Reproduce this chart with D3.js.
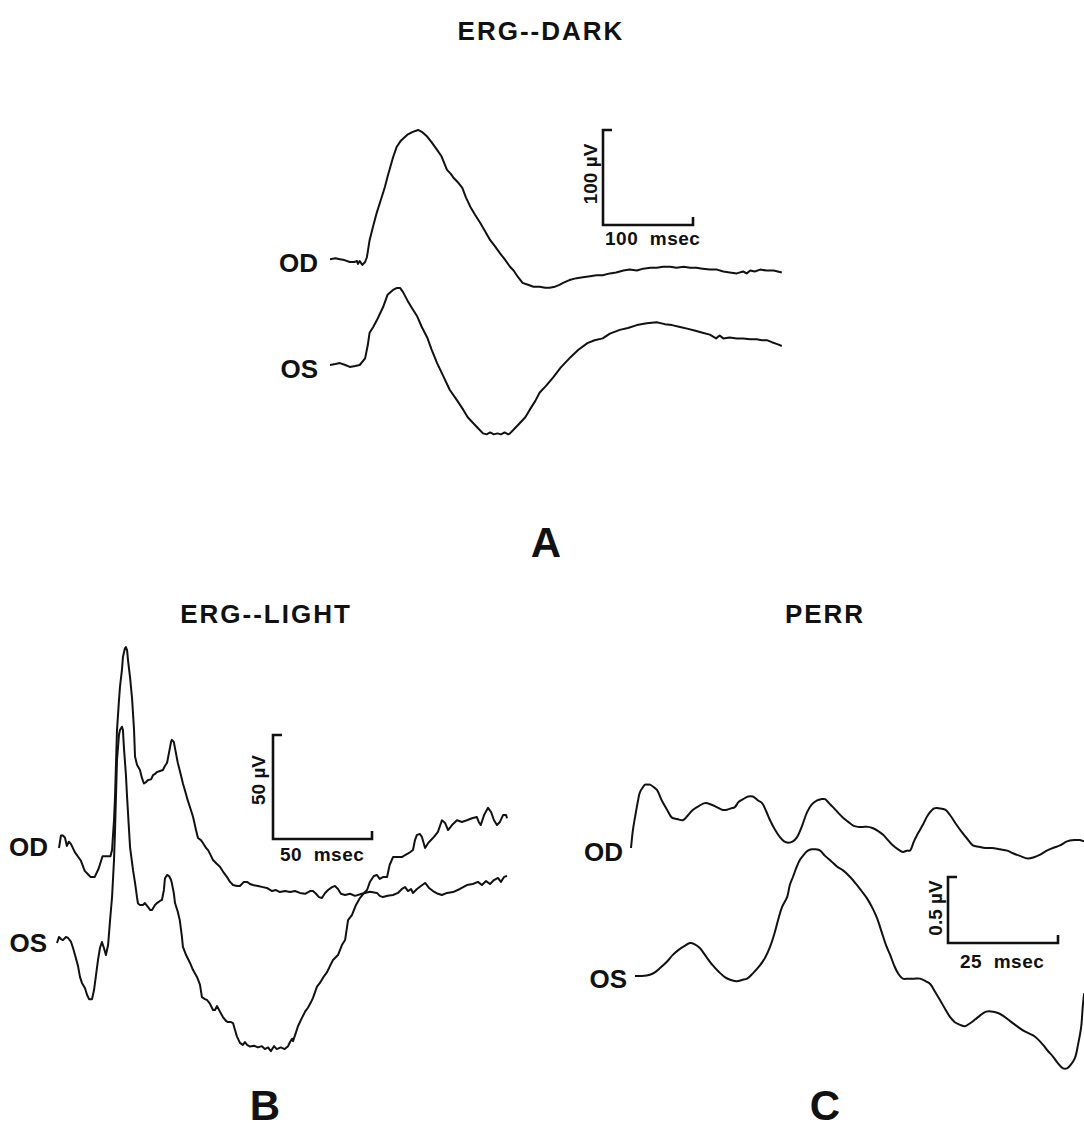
<!DOCTYPE html>
<html>
<head>
<meta charset="utf-8">
<script src="https://cdn.jsdelivr.net/npm/d3@7"></script>
<style>
  body { margin: 0; background: #fff; }
  svg { display: block; }
  .trace { fill: none; stroke: #111; stroke-width: 2; stroke-linejoin: round; }
  .bar { fill: none; stroke: #111; stroke-width: 2.6; }
  text { font-family: "Liberation Sans", Arial, sans-serif; font-weight: bold; fill: #111; }
</style>
</head>
<body>
<svg id="chart"></svg>
<script>
// traces: [time in msec, amplitude in microvolts]
const darkOD = [[0,3],[6,4],[11,3],[16,2],[22,0],[27,0],[30,1],[31,-2],[33,1],[36,-3],[39,0],[41,5],[44,23],[48,38],[52,52],[56,64],[61,79],[64,90],[67,100],[70,110],[74,121],[79,128],[86,134],[92,137],[98,139],[102,137],[108,132],[113,126],[119,118],[124,111],[130,97],[134,93],[137,89],[142,84],[147,78],[151,68],[156,58],[161,50],[167,41],[172,33],[178,23],[183,17],[189,9],[194,3],[200,-5],[204,-9],[209,-16],[214,-22],[220,-24],[226,-26],[233,-26],[239,-27],[244,-27],[250,-26],[255,-24],[259,-22],[266,-19],[274,-17],[281,-16],[289,-15],[296,-14],[303,-14],[311,-12],[318,-11],[326,-9],[333,-8],[341,-9],[348,-7],[356,-6],[363,-6],[370,-5],[378,-5],[385,-6],[393,-5],[400,-6],[407,-6],[414,-7],[422,-8],[430,-8],[437,-10],[444,-11],[452,-12],[459,-10],[463,-12],[467,-9],[472,-10],[478,-8],[485,-9],[493,-9],[502,-11]];

const darkOS = [[0,0],[6,1],[11,2],[17,0],[22,-2],[28,-1],[33,0],[39,7],[42,21],[44,34],[48,40],[52,47],[56,55],[59,61],[64,74],[70,79],[74,81],[78,81],[81,77],[86,68],[91,60],[97,51],[102,40],[108,29],[113,16],[119,2],[126,-12],[133,-26],[141,-37],[148,-47],[153,-55],[159,-61],[164,-66],[170,-72],[174,-73],[178,-71],[182,-73],[186,-72],[190,-73],[194,-71],[198,-73],[200,-72],[206,-66],[211,-61],[217,-55],[222,-47],[228,-38],[233,-29],[240,-22],[248,-13],[256,-3],[267,8],[276,16],[286,23],[294,26],[303,28],[311,33],[322,37],[331,39],[341,42],[352,44],[363,45],[372,43],[380,42],[389,40],[398,38],[406,36],[414,34],[422,32],[429,28],[433,31],[437,28],[444,29],[452,28],[459,28],[467,27],[474,27],[480,26],[486,26],[491,24],[497,22],[502,20]];

const lightOD = [[1,0],[2,6],[3,6],[4,5],[5,1],[6,3],[7,2],[9,-2],[12,-6],[14,-11],[16,-13],[17,-14],[19,-14],[21,-10],[23,-4],[25,-4],[27,-4],[27.8,-1],[28.8,13.5],[29.3,24.5],[30.3,56.7],[31.3,71],[31.8,77.4],[32.8,85.6],[33.3,91.8],[34.3,96],[34.8,96.6],[35.4,95],[35.9,90],[36.9,82],[37.9,72],[38.9,57],[39.4,44],[40.4,40],[41.9,37.5],[42.9,33.7],[43.9,31],[45,31.7],[46,32.7],[47.5,33],[48.5,35],[49.5,35.6],[50.5,36.5],[52,37],[53.5,37.5],[54.5,39.4],[55.6,41],[56.6,46],[57.6,51],[58,52],[59,51],[60,46],[61,41],[62.6,35],[63.6,31],[65,26.4],[66,23],[67.7,18],[68.7,15],[70.2,8.7],[71.2,4.8],[72.7,3.8],[73.7,2.4],[75.3,0],[76.3,-1],[77.8,-3.8],[78.8,-5.8],[80.8,-7.7],[82.3,-9],[84.3,-12],[85.9,-14],[87.4,-16.3],[88.9,-17.8],[90.9,-18.3],[92.4,-18.3],[94.4,-16.3],[96,-16.3],[97.5,-17.3],[99,-17.8],[101.5,-18.3],[104,-18.8],[106,-19.2],[108.6,-20.7],[110.6,-20.2],[112.6,-21.2],[115.2,-20.7],[117.7,-21.2],[120.2,-20.7],[122.7,-21.6],[125.3,-22],[127.8,-20.7],[129.3,-20.7],[130.8,-22],[132.3,-23.6],[133.8,-24],[135.4,-21.6],[136.9,-20.2],[138.9,-18.8],[140.4,-18.3],[141.9,-19.7],[143.4,-22],[145.5,-22.6],[148,-22],[150.5,-23],[154,-22],[158,-21],[161.6,-21.6],[163,-23],[164.6,-23.6],[167,-23],[169.7,-22.6],[172.2,-21.6],[174.2,-19.7],[175.8,-18.8],[177.3,-20.7],[178.8,-19.7],[179.8,-21.6],[181.8,-19.7],[183.8,-18.3],[185.9,-16.8],[187.9,-19.2],[189.9,-20.7],[192.4,-22],[194.4,-22.6],[197,-21.6],[200,-21.2],[203.5,-19.7],[207,-17.8],[210,-17.3],[212.6,-16.3],[214.6,-17.8],[216.7,-15.9],[218.7,-17.3],[220.7,-15.4],[222.7,-14.4],[224.2,-16.3],[225.8,-13.9],[227.3,-13.5]];

const lightOS = [[0,0],[1,2.9],[2,1.9],[3,1.4],[4.5,2.9],[5.6,2.4],[7.1,0.5],[8.1,-2.4],[9.1,-5.8],[10.6,-11],[11.6,-16.3],[12.6,-19.2],[14.1,-21.6],[15.2,-25],[16.2,-27],[17.7,-27],[18.7,-22.6],[19.7,-15.4],[20.7,-8.2],[21.7,-2.4],[22.7,0.5],[23.7,-2.4],[24.7,-5.8],[25.8,-1],[26.8,11],[27.8,22],[28.8,40],[29.3,54],[30.3,88],[31.3,100],[31.8,102.4],[32.8,104],[33.3,102.4],[33.8,94],[34.8,81],[35.4,70],[36.4,54],[36.9,46],[38.4,35],[39.4,29],[40.4,22],[40.9,19],[41.9,18.3],[43.4,18.3],[44.4,19.2],[46,17.3],[47,15.9],[48,15.9],[49.5,18.3],[50.5,19.2],[52,20.2],[53,20.7],[54,25.5],[54.5,31],[55.6,32.7],[56.6,32.2],[57.6,30.3],[58,28.8],[59,24],[59.6,19.2],[61,15],[62,11],[63,3.8],[63.6,-1.9],[65.2,-5.8],[67.2,-9.6],[68.7,-13],[70.7,-16.3],[72.2,-20],[73.2,-26],[74.7,-27],[75.8,-27.4],[77.3,-29.3],[78.8,-32.2],[79.8,-32.2],[80.8,-30.3],[82.3,-33],[83.8,-35.6],[85.4,-37.5],[86.4,-38],[87.9,-38],[88.9,-38.5],[89.9,-41.8],[90.9,-45],[92.4,-48],[93.9,-49],[94.9,-47.6],[96,-49],[97.5,-49.8],[99.5,-49.4],[101.5,-50.2],[103.5,-49.6],[105,-51],[106.6,-50.2],[108,-52],[109.6,-49.6],[111,-51],[113,-50.2],[115,-51],[116.7,-49.6],[117.7,-47.6],[118.7,-46],[119.2,-47.2],[120.7,-43],[121.7,-40],[123.7,-36],[125.3,-33],[126.8,-31],[128.3,-28.4],[129.3,-26.4],[131.3,-21],[132.8,-19.2],[134.8,-16],[136.4,-14],[137.9,-11],[139.4,-8.2],[141.9,-5.8],[143.9,-1],[145.5,1.4],[147,11],[149,13.5],[151,18.3],[153,21.6],[155,24],[156.6,25.5],[158,29.3],[160,32.2],[161.6,32.7],[163,30.8],[164.6,31.7],[166.7,31.7],[168,37.5],[169.7,41.3],[172.2,41.3],[174.2,41.3],[175.8,42.3],[177.8,43.3],[179.8,44.7],[180.8,49.5],[181.8,52],[183.3,52.4],[184.3,51],[185.9,45.7],[187.4,48],[188.9,49.5],[190.4,51],[192.4,53.4],[194.4,59],[196,57.7],[197.5,54.3],[199.5,56.7],[202,59],[204.5,58.2],[207,59],[209.6,60],[212,60.6],[213,58.2],[214,56.7],[215.7,61.5],[217.7,65],[219.2,63],[220.7,59],[222.2,56.7],[223.7,58.2],[225.3,61.5],[226.8,61.5],[227.3,60]];

const perrOD = [[0,0],[0.45,0.14],[0.9,0.23],[1.6,0.36],[2.0,0.42],[2.7,0.46],[3.2,0.48],[3.9,0.48],[4.3,0.48],[5.2,0.46],[5.9,0.44],[7.0,0.36],[8.2,0.29],[9.3,0.23],[10.5,0.22],[11.8,0.21],[13.0,0.25],[14.1,0.29],[15.5,0.32],[16.8,0.34],[18.2,0.33],[19.5,0.31],[20.7,0.29],[21.8,0.29],[22.7,0.30],[23.6,0.31],[24.5,0.35],[25.5,0.37],[26.6,0.39],[27.7,0.39],[28.9,0.36],[29.8,0.34],[30.7,0.28],[31.6,0.21],[32.7,0.14],[33.9,0.08],[34.8,0.05],[35.7,0.04],[36.8,0.05],[37.7,0.08],[38.9,0.17],[40.0,0.27],[41.1,0.33],[42.3,0.36],[43.2,0.37],[44.1,0.37],[45.0,0.34],[45.9,0.31],[47.0,0.27],[48.2,0.23],[49.3,0.20],[50.5,0.17],[51.6,0.16],[52.7,0.16],[53.9,0.16],[55.0,0.15],[56.1,0.13],[57.3,0.10],[58.4,0.06],[59.5,0.02],[60.7,-0.01],[61.8,-0.03],[62.7,-0.02],[63.4,-0.02],[64.3,0.05],[65.2,0.11],[66.4,0.18],[67.5,0.25],[68.9,0.30],[70.2,0.30],[71.4,0.29],[72.5,0.25],[73.9,0.18],[75.2,0.12],[76.4,0.07],[77.7,0.02],[79.1,0.01],[80.5,0],[82.0,0],[83.9,-0.01],[85.5,-0.02],[86.8,-0.04],[88.4,-0.06],[90.2,-0.08],[91.6,-0.07],[93.0,-0.05],[94.5,-0.02],[95.9,0],[97.5,0.02],[99.1,0.05],[100.7,0.06],[102.0,0.06],[103.0,0.05]];

const perrOS = [[0.9,0],[2.5,0],[4.3,0.01],[5.5,0.03],[6.6,0.06],[8.2,0.11],[9.5,0.16],[10.9,0.20],[12.3,0.23],[13.4,0.25],[14.5,0.24],[15.7,0.21],[17.0,0.15],[18.6,0.08],[20.0,0.03],[21.4,-0.01],[22.7,-0.03],[24.1,-0.04],[25.2,-0.03],[26.4,-0.02],[27.7,0.02],[29.3,0.08],[30.5,0.14],[31.6,0.22],[32.5,0.31],[33.4,0.42],[34.3,0.52],[35.5,0.60],[36.1,0.69],[36.8,0.75],[37.7,0.83],[38.4,0.88],[39.3,0.92],[40.2,0.95],[41.1,0.96],[42.0,0.96],[43.0,0.95],[44.1,0.91],[45.5,0.87],[46.8,0.83],[48.2,0.80],[49.8,0.75],[51.1,0.70],[52.5,0.64],[53.6,0.59],[54.8,0.52],[55.9,0.44],[57.0,0.33],[58.0,0.23],[58.9,0.16],[59.8,0.08],[60.7,0.02],[61.8,-0.02],[63.0,-0.02],[64.3,-0.02],[65.7,-0.02],[67.0,-0.04],[68.0,-0.06],[69.1,-0.12],[70.2,-0.18],[71.4,-0.25],[72.5,-0.31],[73.6,-0.35],[74.8,-0.37],[75.9,-0.38],[77.0,-0.36],[78.2,-0.33],[79.3,-0.30],[80.7,-0.27],[82.3,-0.27],[83.4,-0.28],[84.5,-0.30],[86.1,-0.34],[87.7,-0.38],[89.5,-0.42],[91.4,-0.45],[92.5,-0.48],[93.6,-0.52],[94.8,-0.57],[95.9,-0.61],[97.0,-0.66],[98.2,-0.70],[99.1,-0.70],[100.0,-0.67],[100.9,-0.62],[101.6,-0.52],[102.3,-0.39],[102.7,-0.22],[103.0,-0.13]];

const eyeLabels = ["OD", "OS"];
const panelTitles = ["ERG--DARK", "ERG--LIGHT", "PERR"];
const panelLetters = ["A", "B", "C"];
const barMs = [100, 50, 25];
const barUv = [100, 50, 0.5];

const width = 1084, height = 1140;

const svg = d3.select("#chart")
    .attr("width", width)
    .attr("height", height);

// layout for each panel (pixels per msec / per uV, baselines, scale bar corner)
const panels = [
    { traces: [darkOD, darkOS], x0: 330, kx: 0.9, ky: 0.95, base: [262, 365],
      curve: d3.curveLinear, bar: [603, 225], labelX: [318, 318], labelY: [272, 378],
      msecText: [605, 245], uvText: [590, 174],
      title: [541, 40], letter: [546, 557] },
    { traces: [lightOD, lightOS], x0: 57, kx: 1.98, ky: 2.08, base: [848, 943],
      curve: d3.curveLinear, bar: [273, 839], labelX: [48, 47], labelY: [856, 952],
      msecText: [280, 861], uvText: [258, 780],
      title: [266, 623], letter: [265, 1120] },
    { traces: [perrOD, perrOS], x0: 631, kx: 4.4, ky: 132, base: [848, 976],
      curve: d3.curveCatmullRom, bar: [948, 943], labelX: [623, 627], labelY: [861, 988],
      msecText: [960, 968], uvText: [935, 908],
      title: [825, 623], letter: [825, 1120] }
];

panels.forEach((p, i) => {
    const g = svg.append("g");

    const x = d3.scaleLinear()
        .domain([0, 100])
        .range([p.x0, p.x0 + 100 * p.kx]);

    p.traces.forEach((data, j) => {
        const y = d3.scaleLinear()
            .domain([0, 1])
            .range([p.base[j], p.base[j] - p.ky]);

        const line = d3.line()
            .x(d => x(d[0]))
            .y(d => y(d[1]))
            .curve(p.curve);

        g.append("path")
            .datum(data)
            .attr("class", "trace")
            .attr("d", line);

        g.append("text")
            .attr("x", p.labelX[j])
            .attr("y", p.labelY[j])
            .attr("text-anchor", "end")
            .attr("font-size", "26px")
            .text(eyeLabels[j]);
    });

    // calibration bar, sized by the same scales
    const bx = d3.scaleLinear().domain([0, barMs[i]]).range([p.bar[0], p.bar[0] + barMs[i] * p.kx]);
    const by = d3.scaleLinear().domain([0, barUv[i]]).range([p.bar[1], p.bar[1] - barUv[i] * p.ky]);
    const barPath = d3.path();
    barPath.moveTo(bx(0) + 9, by(barUv[i]));
    barPath.lineTo(bx(0), by(barUv[i]));
    barPath.lineTo(bx(0), by(0));
    barPath.lineTo(bx(barMs[i]), by(0));
    barPath.lineTo(bx(barMs[i]), by(0) - 8);
    g.append("path")
        .attr("class", "bar")
        .attr("d", barPath.toString());

    g.append("text")
        .attr("x", p.msecText[0])
        .attr("y", p.msecText[1])
        .attr("font-size", "19px")
        .attr("letter-spacing", "0.5px")
        .text(barMs[i] + "\u00a0\u00a0msec");

    g.append("text")
        .attr("transform", `translate(${p.uvText[0]},${p.uvText[1]}) rotate(-90)`)
        .attr("text-anchor", "middle")
        .attr("dy", "0.35em")
        .attr("font-size", "19px")
        .text(barUv[i] + " \u00b5V");

    g.append("text")
        .attr("x", p.title[0])
        .attr("y", p.title[1])
        .attr("text-anchor", "middle")
        .attr("font-size", "26px")
        .attr("letter-spacing", "2px")
        .text(panelTitles[i]);

    g.append("text")
        .attr("x", p.letter[0])
        .attr("y", p.letter[1])
        .attr("text-anchor", "middle")
        .attr("font-size", "42px")
        .text(panelLetters[i]);
});
</script>
</body>
</html>
